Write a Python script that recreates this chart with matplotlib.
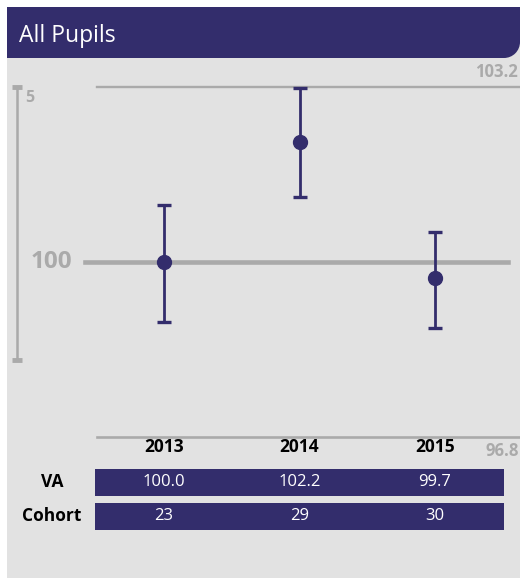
import matplotlib
matplotlib.use("Agg")
import matplotlib.pyplot as plt
import matplotlib.transforms as mtrans
from matplotlib import font_manager as fm
from matplotlib.patches import Rectangle, Circle

# ---- data ----
years = ["2013", "2014", "2015"]
va = [100.0, 102.2, 99.7]
ci_upper = [101.04, 103.18, 100.55]
ci_lower = [98.90, 101.19, 98.79]
cohort = [23, 29, 30]
y_top, y_bottom = 103.2, 96.8
national = 100
scale_len = 5
title = "All Pupils"
row_labels = ["VA", "Cohort"]

plt.rcParams['font.family'] = ['Open Sans', 'DejaVu Sans']


def pick_bold():
    cands = []
    for f in fm.fontManager.ttflist:
        if f.name == "Open Sans":
            fn = f.fname.split('/')[-1].lower()
            if "condensed" in fn or "italic" in fn:
                continue
            if fn.endswith("-bold.ttf") or fn.endswith("_bold.ttf"):
                cands.append((0, f.fname))
            elif isinstance(f.weight, int) and f.weight >= 700 and f.stretch == 'normal':
                cands.append((1, f.fname))
    if cands:
        cands.sort()
        return fm.FontProperties(fname=cands[0][1])
    return fm.FontProperties(family=['Open Sans', 'DejaVu Sans'], weight='bold')


BOLD = pick_bold()

NAVY = "#332d6c"
GRAY = "#aaaaaa"
PANEL = "#e2e2e2"

W, H = 520, 579
fig = plt.figure(figsize=(W / 100, H / 100), dpi=100)
fig.patch.set_facecolor("white")

bg = fig.add_axes([0, 0, 1, 1])
bg.set_xlim(0, W)
bg.set_ylim(H, 0)
bg.axis('off')
bg.add_patch(Rectangle((7, 7), W - 7, H - 8, fc=PANEL, ec="none"))
r = 16
bg.add_patch(Rectangle((7, 7), W - 7, 51 - r, fc=NAVY, ec="none"))
bg.add_patch(Rectangle((7, 7), W - 7 - r, 51, fc=NAVY, ec="none"))
bg.add_patch(Circle((W - r, 58 - r), r, fc=NAVY, ec="none"))
bg.text(19, 36, title, color="white", fontsize=16.5, va="center", ha="left")


def btext(axis, x, y, s, size, **kw):
    fp = BOLD.copy()
    fp.set_size(size)
    return axis.text(x, y, s, fontproperties=fp, **kw)


# main chart axes
ax = fig.add_axes([97 / W, (H - 437) / H, 423 / W, 350 / H])
ax.set_xlim((97 - 164) / 135.5, (520 - 164) / 135.5)
ax.set_ylim(y_bottom, y_top)
ax.axis('off')

ax.axhline(y_top, color=GRAY, lw=1.7, clip_on=False)
ax.axhline(y_bottom, color=GRAY, lw=1.9, clip_on=False)
ax.axhline(national, xmin=-12 / 423, xmax=411 / 423, color=GRAY, lw=3.3,
           clip_on=False, zorder=1)

xs = list(range(len(years)))
yerr = [[v - lo for v, lo in zip(va, ci_lower)], [hi - v for v, hi in zip(va, ci_upper)]]
ax.errorbar(xs, va, yerr=yerr, fmt='o', color=NAVY, ms=10, elinewidth=2,
            capsize=5, capthick=2.4, clip_on=False, zorder=3)

# scale bar
sx = (17 - 164) / 135.5
ax.plot([sx, sx], [y_top, y_top - scale_len], color=GRAY, lw=1.8, clip_on=False)
ax.plot([sx, sx], [y_top, y_top - scale_len], ls='none', marker='_', ms=6.5,
        mew=3.5, color=GRAY, clip_on=False)

btext(bg, 25, 98, str(scale_len), 11.5, color=GRAY, ha='left', va='center')
btext(bg, 72, 262, str(national), 17.5, color=GRAY, ha='right', va='center')
btext(bg, 518, 72, f"{y_top:.1f}", 12, color=GRAY, ha='right', va='center')
btext(bg, 519, 451, f"{y_bottom:.1f}", 12, color=GRAY, ha='right', va='center')

trans = mtrans.blended_transform_factory(ax.transData, bg.transData)
for i, yr in enumerate(years):
    btext(ax, i, 447, yr, 12.5, transform=trans, ha='center', va='center',
          color='black')

# table
bg.add_patch(Rectangle((95, 469), 409, 27, fc=NAVY, ec="none"))
bg.add_patch(Rectangle((95, 503), 409, 27, fc=NAVY, ec="none"))
btext(bg, 52, 482, row_labels[0], 12.5, ha='center', va='center', color='black')
btext(bg, 52, 516, row_labels[1], 12.5, ha='center', va='center', color='black')
for i in xs:
    ax.text(i, 482, f"{va[i]:.1f}", transform=trans, fontsize=12, color='white',
            ha='center', va='center')
    ax.text(i, 516, f"{cohort[i]}", transform=trans, fontsize=12, color='white',
            ha='center', va='center')

fig.savefig("out.png", dpi=100, facecolor=fig.get_facecolor())
